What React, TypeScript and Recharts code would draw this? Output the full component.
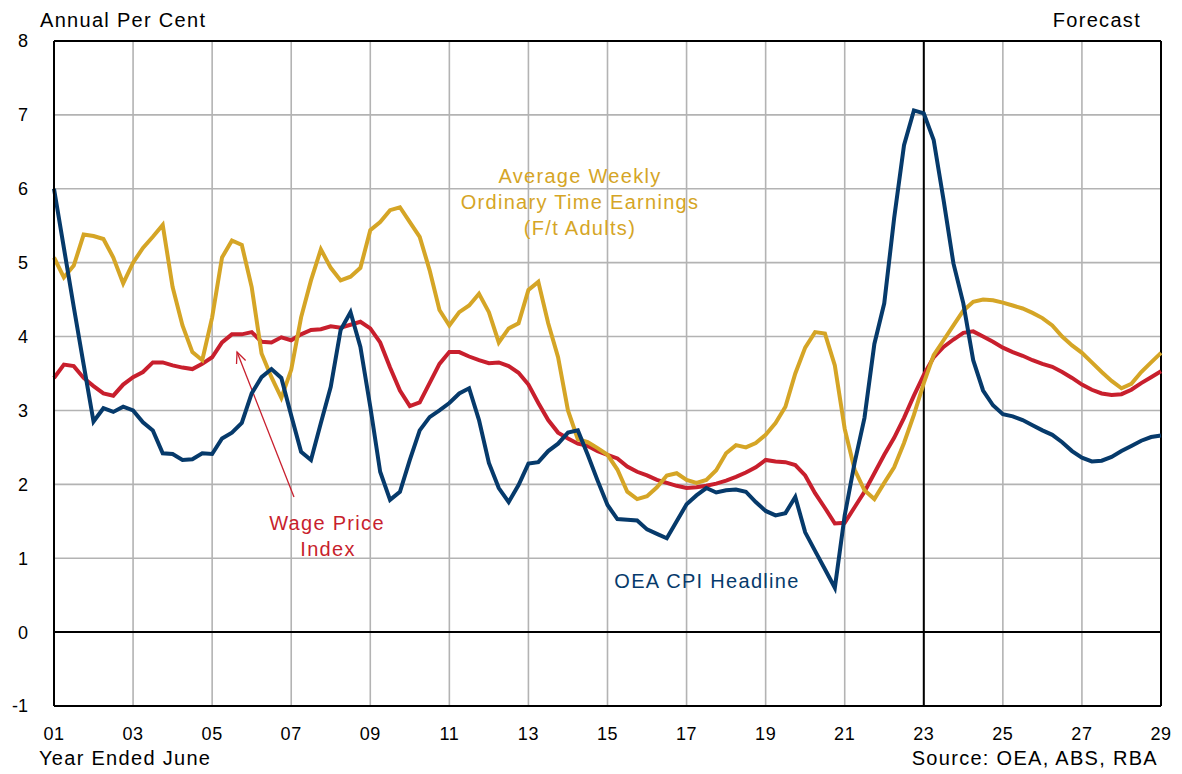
import React from 'react';
import {
  LineChart,
  Line,
  XAxis,
  YAxis,
  CartesianGrid,
  ReferenceLine,
  Customized,
} from 'recharts';

// quarterly, Jun-2001 .. Jun-2029, annual per cent
const cpiHeadline = [
  6.0, 5.2, 4.4, 3.62,
  2.85, 3.03, 2.98, 3.05,
  3.0, 2.84, 2.73, 2.42,
  2.41, 2.33, 2.34, 2.42,
  2.41, 2.62, 2.7, 2.83,
  3.23, 3.45, 3.56, 3.44,
  2.93, 2.44, 2.33, 2.83,
  3.32, 4.09, 4.33, 3.86,
  3.05, 2.17, 1.79, 1.9,
  2.33, 2.73, 2.91, 3.0,
  3.1, 3.23, 3.3, 2.87,
  2.29, 1.95, 1.76, 1.99,
  2.28, 2.3, 2.45, 2.55,
  2.7, 2.73, 2.4, 2.05,
  1.72, 1.53, 1.52, 1.51,
  1.39, 1.33, 1.27, 1.5,
  1.73, 1.85, 1.95, 1.89,
  1.92, 1.93, 1.9, 1.76,
  1.64, 1.58, 1.61, 1.83,
  1.35, 1.1, 0.85, 0.6,
  1.58, 2.29, 2.9, 3.9,
  4.45, 5.6, 6.59, 7.06,
  7.02, 6.66, 5.85, 4.99,
  4.45, 3.68, 3.27, 3.07,
  2.95, 2.92, 2.87, 2.8,
  2.73, 2.67, 2.57, 2.45,
  2.36, 2.31, 2.32, 2.37,
  2.45, 2.52, 2.59, 2.64,
  2.66,
];

const wagePriceIndex = [
  3.44, 3.62, 3.6, 3.44,
  3.33, 3.23, 3.2, 3.35,
  3.45, 3.52, 3.65, 3.65,
  3.61, 3.58, 3.56, 3.63,
  3.72, 3.92, 4.03, 4.03,
  4.06, 3.93, 3.92, 3.99,
  3.95, 4.03, 4.09, 4.1,
  4.14, 4.12, 4.16, 4.2,
  4.11, 3.92, 3.58, 3.27,
  3.06, 3.11, 3.37, 3.63,
  3.79, 3.79, 3.73, 3.68,
  3.64, 3.65, 3.6, 3.51,
  3.35, 3.1, 2.87, 2.7,
  2.62, 2.55, 2.52, 2.45,
  2.4, 2.35, 2.24, 2.17,
  2.12, 2.06, 2.02, 1.98,
  1.95, 1.96, 1.98, 2.01,
  2.05, 2.1, 2.16, 2.23,
  2.33, 2.31, 2.3, 2.26,
  2.12, 1.88, 1.68, 1.47,
  1.48, 1.69, 1.9, 2.15,
  2.4, 2.63, 2.9, 3.2,
  3.48, 3.72, 3.86, 3.96,
  4.05, 4.07, 4.0, 3.93,
  3.85, 3.79, 3.74, 3.68,
  3.63, 3.59, 3.52, 3.44,
  3.35, 3.28, 3.23, 3.21,
  3.22, 3.28, 3.37, 3.45,
  3.53,
];

const awote = [
  5.07, 4.8, 4.96, 5.38,
  5.36, 5.32, 5.07, 4.72,
  5.0, 5.2, 5.35, 5.51,
  4.67, 4.15, 3.79, 3.68,
  4.26, 5.07, 5.3, 5.24,
  4.67, 3.77, 3.45, 3.17,
  3.55, 4.26, 4.76, 5.18,
  4.93, 4.76, 4.81, 4.93,
  5.44, 5.55, 5.71, 5.75,
  5.55, 5.35, 4.9, 4.36,
  4.15, 4.33, 4.42, 4.58,
  4.33, 3.92, 4.11, 4.18,
  4.63, 4.74, 4.18, 3.72,
  3.0, 2.61, 2.57, 2.49,
  2.4, 2.2, 1.9, 1.8,
  1.84, 1.96, 2.12, 2.15,
  2.06, 2.02, 2.06, 2.19,
  2.42, 2.53, 2.5, 2.56,
  2.67, 2.83, 3.05, 3.5,
  3.85, 4.06, 4.04, 3.61,
  2.75, 2.2, 1.92, 1.8,
  2.02, 2.23, 2.56, 2.94,
  3.37, 3.75, 3.95, 4.15,
  4.35, 4.47, 4.5, 4.49,
  4.46, 4.42, 4.38, 4.32,
  4.25, 4.15, 4.0, 3.88,
  3.78, 3.65, 3.52, 3.4,
  3.3, 3.36, 3.52, 3.65,
  3.78,
];

const yearTicks = [2001, 2003, 2005, 2007, 2009, 2011, 2013, 2015, 2017, 2019, 2021, 2023, 2025, 2027, 2029];
const valueTicks = [-1, 0, 1, 2, 3, 4, 5, 6, 7, 8];
const forecastStart = 2023;

const data = cpiHeadline.map((cpi, i) => ({
  year: 2001 + i * 0.25,
  cpi,
  wpi: wagePriceIndex[i],
  awote: awote[i],
}));

const BLUE = '#063a6b';
const RED = '#c81f2d';
const GOLD = '#d5a526';
const FONT = '"Liberation Sans", Arial, sans-serif';

const labelStyle = { fontFamily: FONT, fontSize: 20, letterSpacing: 1.3 };

const Annotations = () => (
  <g style={labelStyle}>
    <text x={40} y={27} fill="#000">Annual Per Cent</text>
    <text x={1141} y={27} fill="#000" textAnchor="end">Forecast</text>
    <text x={39} y={765} fill="#000">Year Ended June</text>
    <text x={1158} y={765} fill="#000" textAnchor="end">Source: OEA, ABS, RBA</text>
    <text x={580} y={183} fill={GOLD} textAnchor="middle">Average  Weekly</text>
    <text x={580} y={209} fill={GOLD} textAnchor="middle">Ordinary Time Earnings</text>
    <text x={580} y={235} fill={GOLD} textAnchor="middle">(F/t Adults)</text>
    <text x={327} y={530} fill={RED} textAnchor="middle">Wage Price</text>
    <text x={328} y={556} fill={RED} textAnchor="middle">Index</text>
    <text x={707} y={588} fill={BLUE} textAnchor="middle">OEA CPI Headline</text>
  </g>
);

const Arrow = (props: any) => {
  const { x1, y1, x2, y2 } = props;
  const ang = Math.atan2(y2 - y1, x2 - x1);
  const len = 12;
  const a1 = ang + Math.PI - 0.42;
  const a2 = ang + Math.PI + 0.42;
  return (
    <g stroke={RED} strokeWidth={1.3} fill="none">
      <line x1={x1} y1={y1} x2={x2} y2={y2} />
      <polyline
        points={`${x2 + len * Math.cos(a1)},${y2 + len * Math.sin(a1)} ${x2},${y2} ${x2 + len * Math.cos(a2)},${y2 + len * Math.sin(a2)}`}
      />
    </g>
  );
};

export default function App() {
  return (
    <div style={{ position: 'absolute', left: 0, top: 0, background: '#fff' }}>
      <LineChart
        width={1182}
        height={774}
        data={data}
        margin={{ top: 41, right: 21, left: 14, bottom: 38 }}
      >
        <CartesianGrid stroke="#b3b3b3" strokeWidth={1.6} />
        <XAxis
          dataKey="year"
          type="number"
          domain={[2001, 2029]}
          ticks={yearTicks}
          tickFormatter={(v: number) => String(v % 100).padStart(2, '0')}
          height={30}
          tickSize={0}
          tickMargin={21}
          axisLine={{ stroke: '#000', strokeWidth: 2 }}
          tick={{ fill: '#000', fontSize: 18, fontFamily: FONT, letterSpacing: 0.6 }}
          interval={0}
        />
        <YAxis
          type="number"
          domain={[-1, 8]}
          ticks={valueTicks}
          width={40}
          tickSize={0}
          tickMargin={26}
          axisLine={{ stroke: '#000', strokeWidth: 2 }}
          tick={{ fill: '#000', fontSize: 18, fontFamily: FONT }}
          interval={0}
        />
        <ReferenceLine y={8} stroke="#000" strokeWidth={2} />
        <ReferenceLine x={2029} stroke="#000" strokeWidth={2} />
        <ReferenceLine y={0} stroke="#000" strokeWidth={2} />
        <ReferenceLine x={forecastStart} stroke="#000" strokeWidth={2} />
        <ReferenceLine
          segment={[{ x: 2007.07, y: 1.83 }, { x: 2005.63, y: 3.79 }]}
          shape={Arrow}
        />
        <Line dataKey="wpi" stroke={RED} strokeWidth={4} dot={false} isAnimationActive={false} />
        <Line dataKey="awote" stroke={GOLD} strokeWidth={4} dot={false} isAnimationActive={false} />
        <Line dataKey="cpi" stroke={BLUE} strokeWidth={4} dot={false} isAnimationActive={false} />
        <Customized component={Annotations} />
      </LineChart>
    </div>
  );
}
